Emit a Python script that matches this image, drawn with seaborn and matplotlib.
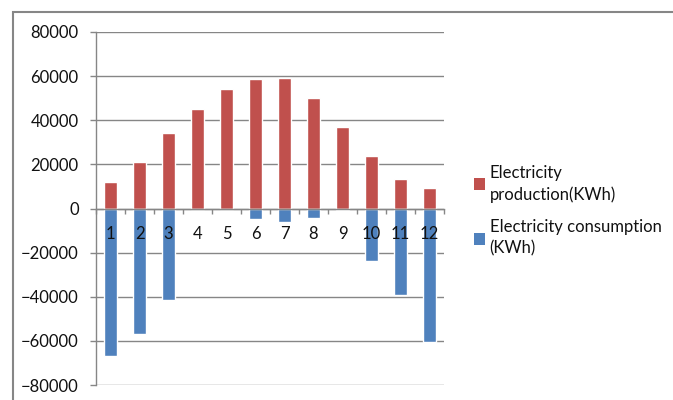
import numpy as np
import pandas as pd
import matplotlib
matplotlib.use('Agg')
import matplotlib.pyplot as plt
from matplotlib.patches import Rectangle, Patch
import seaborn as sns

# data
months = [str(m) for m in range(1, 13)]
production = [12200, 21200, 34400, 45100, 54200, 58600, 59000, 50200, 36800, 23800, 13400, 9300]
consumption = [-67000, -57100, -41300, 0, 0, -4900, -6200, -4200, -700, -23700, -39300, -60600]
series_names = ['Electricity\nproduction(KWh)', 'Electricity consumption\n(KWh)']
colors = ['#C0504D', '#4F81BD']

df = pd.DataFrame({'month': months, 'production': production, 'consumption': consumption})

sns.set_style('white')
plt.rcParams['font.family'] = ['Lato', 'DejaVu Sans']
grey = '#868686'

fig = plt.figure(figsize=(6.73, 4.0), dpi=100)
ax = fig.add_axes([96 / 673, 1 - 385 / 400, (444 - 96) / 673, (385 - 32) / 400])

sns.barplot(data=df, x='month', y='production', order=months, color=colors[0],
            width=0.42, ax=ax, saturation=1, zorder=2)
sns.barplot(data=df, x='month', y='consumption', order=months, color=colors[1],
            width=0.42, ax=ax, saturation=1, zorder=2)

ax.set_xlim(-0.5, 11.5)
ax.set_ylim(-80000, 80000)
ax.set_yticks(np.arange(-80000, 80001, 20000))
ax.set_xlabel('')
ax.set_ylabel('')

# gridlines behind bars, labels in front
ax.set_axisbelow(True)
ax.xaxis.set_zorder(3)
ax.yaxis.grid(True, color=grey, linewidth=1)
ax.xaxis.grid(False)

for s in ['top', 'right']:
    ax.spines[s].set_visible(False)
ax.spines['left'].set_color(grey)
ax.spines['left'].set_linewidth(1)
ax.spines['bottom'].set_position(('data', 0))
ax.spines['bottom'].set_color(grey)
ax.spines['bottom'].set_linewidth(1)

ax.tick_params(axis='y', which='major', direction='out', length=4.5, width=1,
               color=grey, labelsize=12, labelcolor='#111111', pad=8, left=True)
ax.tick_params(axis='x', which='major', length=0, labelsize=12,
               labelcolor='#111111', pad=12.5)
ax.set_xticks(np.arange(-0.5, 12, 1), minor=True)
ax.tick_params(axis='x', which='minor', direction='out', length=3.5, width=1,
               color=grey, bottom=True)

handles = [Patch(facecolor=c, edgecolor='none') for c in colors]
leg = fig.legend(handles, series_names, loc='upper left',
                 bbox_to_anchor=(467 / 673, 1 - 158 / 400),
                 frameon=False, fontsize=12, handlelength=0.7, handleheight=0.7,
                 handletextpad=0.25, labelspacing=1.0, borderaxespad=0)
for t in leg.get_texts():
    t.set_linespacing(1.4)
    t.set_color('#111111')

# outer chart frame
fig.patches.append(Rectangle((13 / 673, -0.1), 1.2, 1 - 12 / 400 + 0.1,
                             transform=fig.transFigure, fill=False,
                             edgecolor=grey, linewidth=1.5))

fig.savefig('out.png', dpi=100)
